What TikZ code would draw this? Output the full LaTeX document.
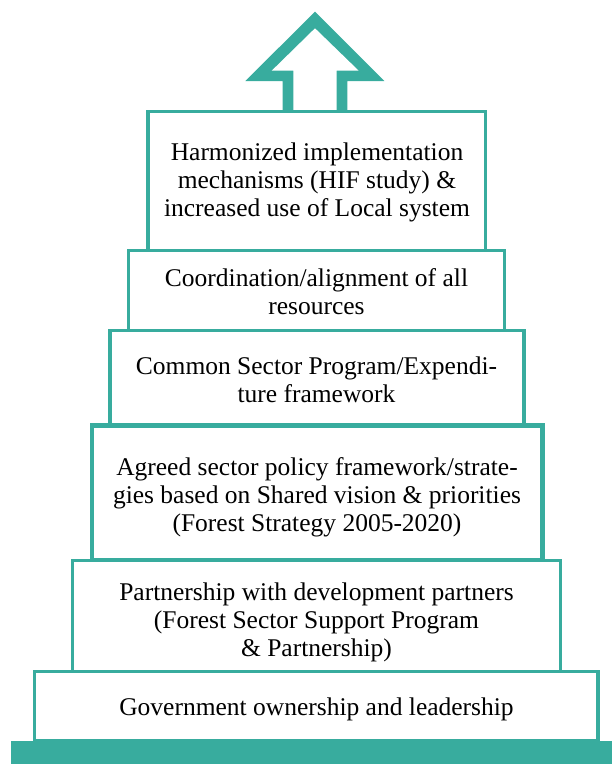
\documentclass[tikz,border=0pt]{standalone}
\usepackage{fontspec}
\setmainfont{Liberation Serif}
\definecolor{teal1}{RGB}{56,172,158}
\tikzset{
  tier/.style={draw=teal1, line width=3.3pt, fill=white},
  tierthick/.style={draw=teal1, line width=4.3pt, fill=white},
  label/.style={anchor=base, align=center, inner sep=0pt, text=black,
    font=\fontsize{25.5}{28}\selectfont},
}
\begin{document}
\begin{tikzpicture}[x=1pt,y=-1pt]
\useasboundingbox (0,0) rectangle (612,764);
% arrow
\fill[teal1] (315,11.7) -- (384.3,81) -- (347.3,81) -- (347.3,112) -- (282.7,112) -- (282.7,81) -- (245.3,81) -- cycle;
\fill[white] (315,28.3) -- (358.7,70.7) -- (336.7,70.7) -- (336.7,112) -- (293.3,112) -- (293.3,70.7) -- (271.7,70.7) -- cycle;
% tiers
\draw[tier] (148,111.5) rectangle (485.7,250.7);
\draw[tier] (128.3,250.7) rectangle (504.3,330.5);
\draw[tier] (110,330.5) rectangle (524,425.5);
\draw[tierthick] (91.7,425.5) rectangle (542.5,560.5);
\draw[tier] (72.3,560.5) rectangle (560.5,671.7);
\draw[tier] (34.3,671.7) rectangle (598,741);
% base bar
\fill[teal1] (11,741) rectangle (612,764);
% labels (anchored at the baseline of the last line)
\node[label] (t6) at (317,216.7) {Harmonized implementation\\mechanisms (HIF study) \&\\increased use of Local system};
\node[label] (t5) at (316.5,314) {Coordination/alignment of all\\resources};
\node[label] (t4) at (316.5,402.7) {Common Sector Program/Expendi-\\ture framework};
\node[label] (t3) at (317,531.7) {Agreed sector policy framework/strate-\\gies based on Shared vision \& priorities\\(Forest Strategy 2005-2020)};
\node[label] (t2) at (316.5,656) {Partnership with development partners\\(Forest Sector Support Program\\\& Partnership)};
\node[label] (t1) at (316.5,715) {Government ownership and leadership};
\end{tikzpicture}
\end{document}
